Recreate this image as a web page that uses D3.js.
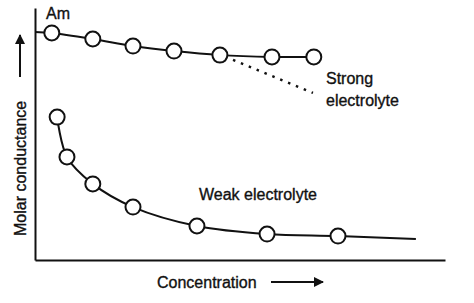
<!DOCTYPE html>
<html>
<head>
<meta charset="utf-8">
<script src="https://cdn.jsdelivr.net/npm/d3@7"></script>
<style>
  body { margin: 0; background: #fff; }
  svg { display: block; font-family: "Liberation Sans", Arial, sans-serif; }
</style>
</head>
<body>
<script>
// concentration (arbitrary units) and molar conductance (arbitrary units)
const strongConc = [0, 0.41, 1.41, 2.39, 3.39, 4.51, 5.78, 6.80];
const strongCond = [90.5, 90.1, 87.7, 84.9, 82.9, 81.3, 80.6, 80.6];
const strongMarked = [false, true, true, true, true, true, true, true];

const extrapConc = [4.83, 6.78];
const extrapCond = [79.4, 66.3];

const weakConc = [0.54, 0.78, 1.41, 2.39, 3.95, 5.66, 7.39, 9.29];
const weakCond = [56.7, 40.9, 30.2, 21.0, 13.5, 10.3, 9.5, 8.3];
const weakMarked = [true, true, true, true, true, true, true, false];

const w = 474, h = 303;
const svg = d3.select('body').append('svg').attr('width', w).attr('height', h);

const x = d3.scaleLinear().domain([0, 10]).range([35, 445]);
const y = d3.scaleLinear().domain([0, 100]).range([260, 8]);

const ink = '#111';

// axes: plain lines, no ticks
svg.append('g')
  .attr('transform', 'translate(0,' + y(0) + ')')
  .call(d3.axisBottom(x).ticks(0).tickSizeOuter(0))
  .call(g => g.select('.domain').attr('stroke', ink).attr('stroke-width', 2));
svg.append('g')
  .attr('transform', 'translate(' + x(0) + ',0)')
  .call(d3.axisLeft(y).ticks(0).tickSizeOuter(0))
  .call(g => g.select('.domain').attr('stroke', ink).attr('stroke-width', 2));

// arrowhead
svg.append('defs').append('marker')
  .attr('id', 'arr')
  .attr('viewBox', '0 0 10 10')
  .attr('refX', 9).attr('refY', 5)
  .attr('markerWidth', 5).attr('markerHeight', 5)
  .attr('markerUnits', 'strokeWidth')
  .attr('orient', 'auto')
  .append('path').attr('d', 'M0,0L10,5L0,10Z').attr('fill', ink);

const line = d3.line().x(d => x(d[0])).y(d => y(d[1])).curve(d3.curveCatmullRom.alpha(0.5));

const strong = strongConc.map((c, i) => [c, strongCond[i], strongMarked[i]]);
const weak = weakConc.map((c, i) => [c, weakCond[i], weakMarked[i]]);
const extrap = extrapConc.map((c, i) => [c, extrapCond[i]]);

svg.append('path').datum(strong).attr('d', line)
  .attr('fill', 'none').attr('stroke', ink).attr('stroke-width', 2);
svg.append('path').datum(weak).attr('d', line)
  .attr('fill', 'none').attr('stroke', ink).attr('stroke-width', 2);
svg.append('path').datum(extrap).attr('d', d3.line().x(d => x(d[0])).y(d => y(d[1])))
  .attr('fill', 'none').attr('stroke', ink).attr('stroke-width', 2.4)
  .attr('stroke-dasharray', '2.5,6');

svg.selectAll('.pt')
  .data(strong.concat(weak).filter(d => d[2]))
  .enter().append('circle')
  .attr('class', 'pt')
  .attr('cx', d => x(d[0]))
  .attr('cy', d => y(d[1]))
  .attr('r', 7.5)
  .attr('fill', '#fff')
  .attr('stroke', ink)
  .attr('stroke-width', 2);

// labels (thin stroke to match the heavier scanned type)
const txt = (tx, ty, s) => svg.append('text').attr('x', tx).attr('y', ty)
  .attr('font-size', 16).attr('fill', ink)
  .attr('stroke', ink).attr('stroke-width', 0.35)
  .text(s);

txt(46, 19, 'Am');
txt(326, 84, 'Strong');
txt(326, 106, 'electrolyte');
txt(199, 200, 'Weak electrolyte');
txt(157, 288, 'Concentration');

svg.append('line').attr('x1', 271).attr('y1', 282).attr('x2', 323).attr('y2', 282)
  .attr('stroke', ink).attr('stroke-width', 2).attr('marker-end', 'url(#arr)');

svg.append('text')
  .attr('transform', 'translate(26,236) rotate(-90)')
  .attr('font-size', 16).attr('fill', ink)
  .attr('stroke', ink).attr('stroke-width', 0.35)
  .text('Molar conductance');
svg.append('line').attr('x1', 20).attr('y1', 77).attr('x2', 20).attr('y2', 35)
  .attr('stroke', ink).attr('stroke-width', 2).attr('marker-end', 'url(#arr)');
</script>
</body>
</html>
